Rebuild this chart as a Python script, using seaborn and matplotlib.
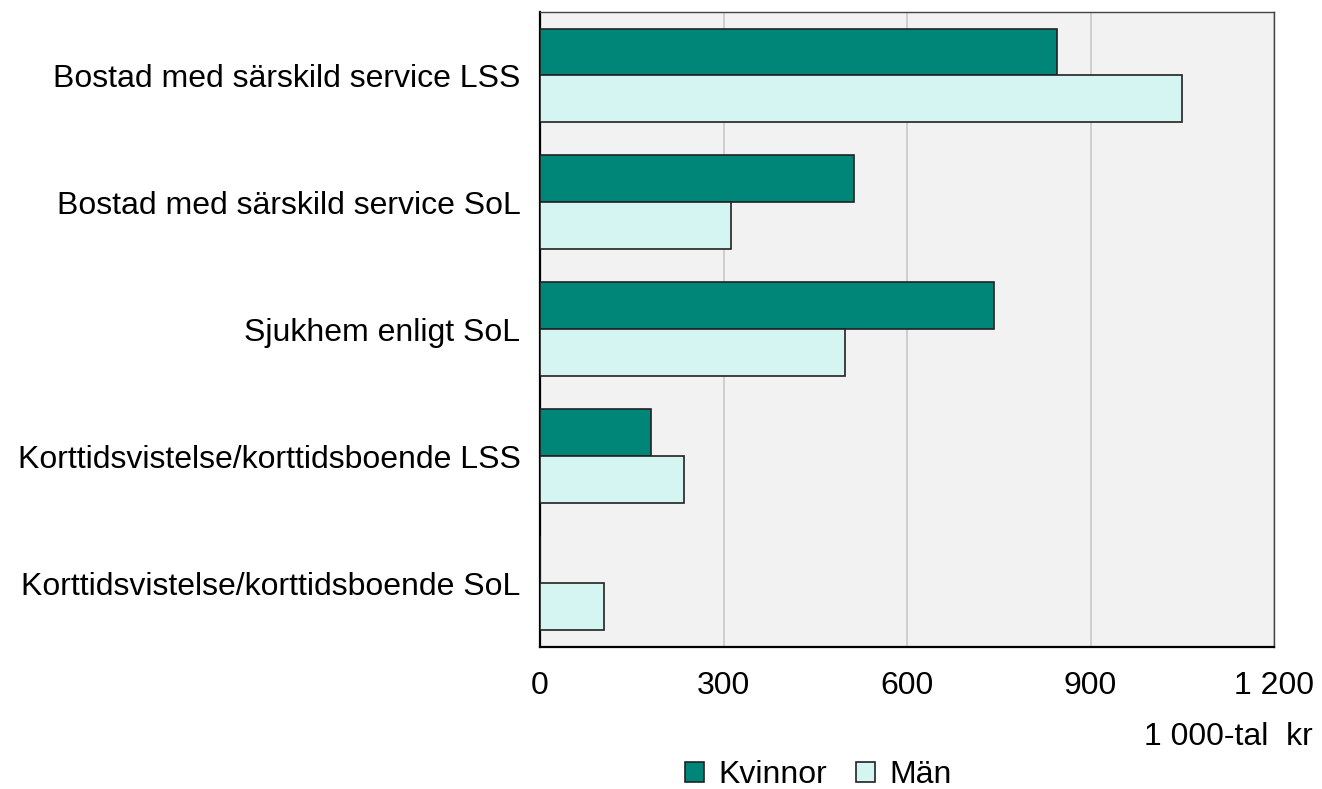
import matplotlib.pyplot as plt
import matplotlib.patches as mpatches
import numpy as np
import pandas as pd
import seaborn as sns

# data
categories = ["Bostad med särskild service LSS",
              "Bostad med särskild service SoL",
              "Sjukhem enligt SoL",
              "Korttidsvistelse/korttidsboende LSS",
              "Korttidsvistelse/korttidsboende SoL"]
kvinnor = [846, 513, 743, 182, 0]
man = [1050, 312, 499, 235, 104]
groups = ["Kvinnor", "Män"]
colors = ["#008579", "#D5F5F3"]

df = pd.DataFrame({
    "kategori": categories * 2,
    "kon": [groups[0]] * len(categories) + [groups[1]] * len(categories),
    "varde": kvinnor + man,
})

sns.set_style("white")
plt.rcParams['font.family'] = ['Liberation Sans', 'DejaVu Sans']
plt.rcParams['text.color'] = 'black'
plt.rcParams['xtick.color'] = 'black'
plt.rcParams['ytick.color'] = 'black'
fs = 23

fig = plt.figure(figsize=(13.22, 7.89), dpi=100)
ax = fig.add_axes([0.4085, 0.18, 0.9637 - 0.4085, 0.9848 - 0.18])
ax.set_facecolor("#F2F2F2")

sns.barplot(data=df, y="kategori", x="varde", hue="kon", order=categories,
            hue_order=groups, palette=colors, saturation=1, width=0.74, orient="h",
            edgecolor="#222222", linewidth=1.2, legend=False, ax=ax, zorder=3)

ax.set_xlim(0, 1200)
ax.set_ylim(4.5, -0.5)
ax.set_xticks([0, 300, 600, 900, 1200])
ax.set_xticklabels(["0", "300", "600", "900", "1 200"], fontsize=fs)
ax.tick_params(axis="x", length=7, width=1.2, color="black", pad=10)
ax.tick_params(axis="y", length=0, labelsize=fs, pad=14)
ax.xaxis.grid(True, color="#C8C8C8", linewidth=1.2, zorder=0)
ax.set_axisbelow(True)
ax.set_xlabel("")
ax.set_ylabel("")

for side in ["top", "right"]:
    ax.spines[side].set_color("#444444")
    ax.spines[side].set_linewidth(1.0)
for side in ["left", "bottom"]:
    ax.spines[side].set_color("black")
    ax.spines[side].set_linewidth(1.6)

fig.text(1313 / 1322, 1 - 737 / 789, "1 000-tal  kr", ha="right", va="center",
         fontsize=fs)

handles = [mpatches.Patch(facecolor=c, edgecolor="#222222", linewidth=1.2, label=g)
           for c, g in zip(colors, groups)]
fig.legend(handles=handles, loc="center", bbox_to_anchor=(818 / 1322, 1 - 775 / 789),
           ncol=2, frameon=False, fontsize=fs, handlelength=0.6, handleheight=0.6,
           handletextpad=0.45, columnspacing=0.9, borderpad=0)

plt.savefig("out.png", dpi=100)
plt.close()
